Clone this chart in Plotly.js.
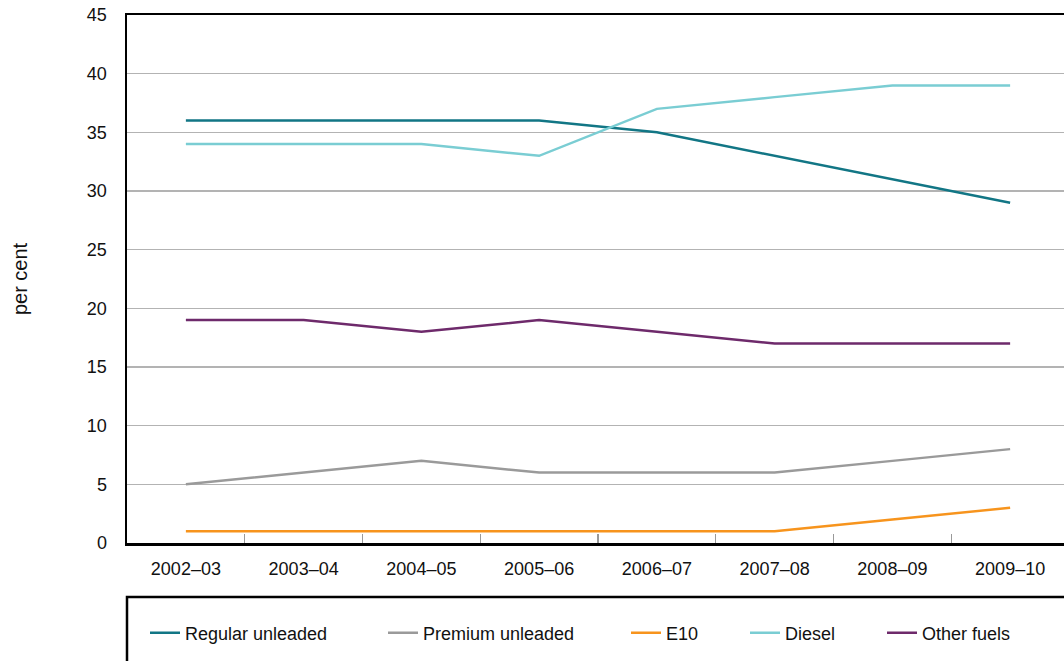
<!DOCTYPE html>
<html>
<head>
<meta charset="utf-8">
<script src="https://cdn.plot.ly/plotly-3.0.1.min.js"></script>
<style>
html,body{margin:0;padding:0;overflow:hidden;background:#fff;}
#chart{width:1070px;height:661px;}
</style>
</head>
<body>
<div id="chart"></div>
<script>
const years = ["2002–03","2003–04","2004–05","2005–06","2006–07","2007–08","2008–09","2009–10"];
const regularUnleaded = [36,36,36,36,35,33,31,29];
const premiumUnleaded = [5,6,7,6,6,6,7,8];
const e10 = [1,1,1,1,1,1,2,3];
const diesel = [34,34,34,33,37,38,39,39];
const otherFuels = [19,19,18,19,18,17,17,17];
const seriesNames = ["Regular unleaded","Premium unleaded","E10","Diesel","Other fuels"];

const colors = ["#127685","#9a9a9a","#f7941d","#7acdd3","#6e2a6b"];
const seriesData = [regularUnleaded, premiumUnleaded, e10, diesel, otherFuels];
const legendIds = ["legend","legend2","legend3","legend4","legend5"];
// legend text left positions in px (container)
const legendTextPx = [185, 423, 666, 785, 922];

const L = 127, W = 1070, PW = W - L - 1;
const traces = seriesData.map((d, i) => ({
  type: "scatter", mode: "lines", x: years, y: d, name: seriesNames[i],
  line: {color: colors[i], width: 2.5},
  legend: legendIds[i], hoverinfo: "x+y+name"
}));

const font = {family: "Liberation Sans, Arial, sans-serif", size: 18, color: "#111"};
const layout = {
  width: W, height: 661,
  margin: {l: L, r: 1, t: 15, b: 118},
  paper_bgcolor: "#fff", plot_bgcolor: "#fff",
  font: font,
  showlegend: true,
  xaxis: {
    type: "category", range: [-0.5, 7.5], tickson: "boundaries",
    ticks: "inside", ticklen: 9, tickcolor: "#999", tickwidth: 1.2,
    showline: true, linecolor: "#000", linewidth: 2.5, mirror: true,
    showgrid: false, zeroline: false, ticklabelstandoff: 8,
    tickfont: font, fixedrange: true
  },
  yaxis: {
    range: [0, 45], dtick: 5, tick0: 0,
    showline: true, linecolor: "#000", linewidth: 2.5,
    showgrid: true, gridcolor: "#b3b3b3", gridwidth: 1.3,
    zeroline: false, ticks: "", ticklabelstandoff: 14,
    tickfont: font, fixedrange: true,
    title: {text: "per cent", font: {family: font.family, size: 20, color: "#111"}, standoff: 54}, automargin: true
  },
  shapes: [{
    type: "rect", xref: "paper", yref: "paper",
    x0: 0, x1: 1.3, y0: (543 - 597) / 528, y1: -0.5,
    line: {color: "#000", width: 2.5}, fillcolor: "rgba(0,0,0,0)", layer: "above"
  }]
};
legendIds.forEach((id, i) => {
  layout[id] = {
    x: (legendTextPx[i] - 40 - L) / PW, xanchor: "left", xref: "paper",
    y: (543 - 633) / 528, yanchor: "middle", yref: "paper",
    orientation: "h", bgcolor: "rgba(0,0,0,0)", borderwidth: 0,
    font: font, itemwidth: 30
  };
});

Plotly.newPlot("chart", traces, layout, {displayModeBar: false, staticPlot: true});
</script>
</body>
</html>
